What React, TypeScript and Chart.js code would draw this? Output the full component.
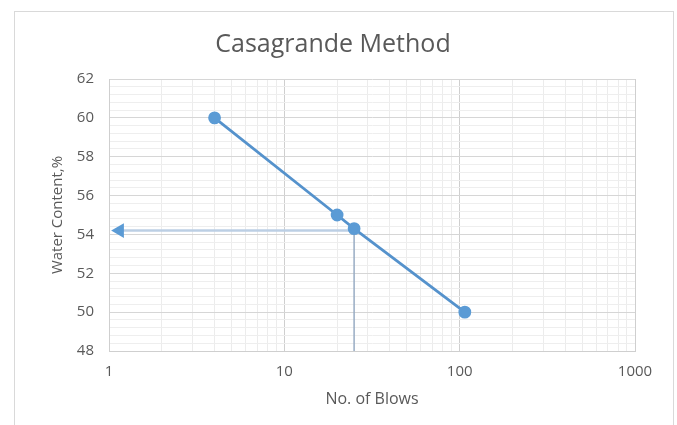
import React, { useEffect, useRef } from 'react';
import { Chart, registerables } from 'chart.js';

Chart.register(...registerables);

// Data
const blows = [4, 20, 25, 107];
const waterContent = [60, 55, 54.3, 50];
const arrowBlows = [25, 1.15];
const arrowWater = [54.2, 54.2];
const dropBlows = [25, 25];
const dropWater = [48, 54.2];

// Ticks
const xMajorTicks = [1, 10, 100, 1000];
const xMinorSteps = [2, 3, 4, 5, 6, 7, 8, 9];
const yMajorTicks = [48, 50, 52, 54, 56, 58, 60, 62];
const yMinorPerMajor = 5;

const buildXTicks = () => {
  const vals: number[] = [];
  for (let i = 0; i < xMajorTicks.length; i++) {
    vals.push(xMajorTicks[i]);
    if (i < xMajorTicks.length - 1) {
      xMinorSteps.forEach((s) => vals.push(xMajorTicks[i] * s));
    }
  }
  return vals;
};

const buildYTicks = () => {
  const vals: number[] = [];
  for (let i = 0; i < yMajorTicks.length; i++) {
    vals.push(yMajorTicks[i]);
    if (i < yMajorTicks.length - 1) {
      const step = (yMajorTicks[i + 1] - yMajorTicks[i]) / yMinorPerMajor;
      for (let k = 1; k < yMinorPerMajor; k++) {
        vals.push(Math.round((yMajorTicks[i] + step * k) * 100) / 100);
      }
    }
  }
  return vals;
};

const isXMajor = (v: number) => xMajorTicks.some((m) => Math.abs(m - v) < 1e-9);
const isYMajor = (v: number) => yMajorTicks.some((m) => Math.abs(m - v) < 1e-9);

const TEXT = '#595959';
const FONT = "'Open Sans', 'Noto Sans', sans-serif";

export default function App() {
  const ref = useRef<HTMLCanvasElement>(null);

  useEffect(() => {
    document.body.style.overflow = 'hidden';
    const canvas = ref.current;
    if (!canvas) return;
    const chart = new Chart(canvas, {
      type: 'scatter',
      data: {
        datasets: [
          {
            label: 'drop',
            data: dropBlows.map((x, i) => ({ x, y: dropWater[i] })),
            showLine: true,
            borderColor: '#98acc4',
            borderWidth: 1.5,
            pointRadius: 0,
            order: 3,
          },
          {
            label: 'arrow',
            data: arrowBlows.map((x, i) => ({ x, y: arrowWater[i] })),
            showLine: true,
            borderColor: '#bccfe4',
            borderWidth: 2.5,
            pointRadius: [0, 6],
            pointStyle: 'triangle',
            rotation: [0, -90],
            pointBackgroundColor: '#5b9bd5',
            pointBorderColor: '#5b9bd5',
            order: 2,
          },
          {
            label: 'Water Content',
            data: blows.map((x, i) => ({ x, y: waterContent[i] })),
            showLine: true,
            borderColor: '#5592cc',
            borderWidth: 2.8,
            pointRadius: 5,
            pointBackgroundColor: '#5b9bd5',
            pointBorderColor: '#5b9bd5',
            order: 1,
          },
        ],
      },
      options: {
        animation: false,
        responsive: false,
        layout: { padding: { left: 16, right: 38, top: 0, bottom: 14 } },
        plugins: {
          legend: { display: false },
          tooltip: { enabled: false },
          title: {
            display: true,
            text: 'Casagrande Method',
            color: TEXT,
            font: { family: FONT, size: 25, weight: 'normal' },
            padding: { top: 18, bottom: 19 },
          },
        },
        scales: {
          x: {
            type: 'logarithmic',
            min: 1,
            max: 1000,
            afterBuildTicks: (scale: any) => {
              scale.ticks = buildXTicks().map((v) => ({ value: v }));
            },
            afterFit: (scale: any) => {
              scale.height = 60;
            },
            ticks: {
              autoSkip: false,
              maxRotation: 0,
              padding: 12,
              color: TEXT,
              font: { family: FONT, size: 15 },
              callback: (v: any) => (isXMajor(Number(v)) ? String(v) : ''),
            },
            grid: {
              drawTicks: false,
              color: (ctx: any) => (ctx.tick && isXMajor(ctx.tick.value) ? '#cfcfcf' : '#ececec'),
              lineWidth: 1,
            },
            border: { color: '#cfcfcf' },
            title: {
              display: true,
              text: 'No. of Blows',
              color: TEXT,
              font: { family: FONT, size: 16 },
              padding: { top: 0, bottom: 2 },
            },
          },
          y: {
            type: 'linear',
            min: 48,
            max: 62,
            afterBuildTicks: (scale: any) => {
              scale.ticks = buildYTicks().map((v) => ({ value: v }));
            },
            afterFit: (scale: any) => {
              scale.width = 78;
            },
            ticks: {
              autoSkip: false,
              padding: 15,
              color: TEXT,
              font: { family: FONT, size: 15 },
              callback: (v: any) => (isYMajor(Number(v)) ? String(v) : ''),
            },
            grid: {
              drawTicks: false,
              color: (ctx: any) => (ctx.tick && isYMajor(ctx.tick.value) ? '#d6d6d6' : '#eeeeee'),
              lineWidth: 1,
            },
            border: { color: '#cfcfcf' },
            title: {
              display: true,
              text: 'Water Content,%',
              color: TEXT,
              font: { family: FONT, size: 15 },
              padding: { top: 18, bottom: 0 },
            },
          },
        },
      },
    });
    return () => chart.destroy();
  }, []);

  return (
    <div
      style={{
        position: 'absolute',
        left: 14,
        top: 11,
        width: 660,
        height: 414,
        borderTop: '1px solid #d9d9d9',
        borderLeft: '1px solid #d9d9d9',
        borderRight: '1px solid #d9d9d9',
        boxSizing: 'border-box',
        background: '#fff',
      }}
    >
      <canvas ref={ref} width={658} height={413} style={{ display: 'block' }} />
    </div>
  );
}
